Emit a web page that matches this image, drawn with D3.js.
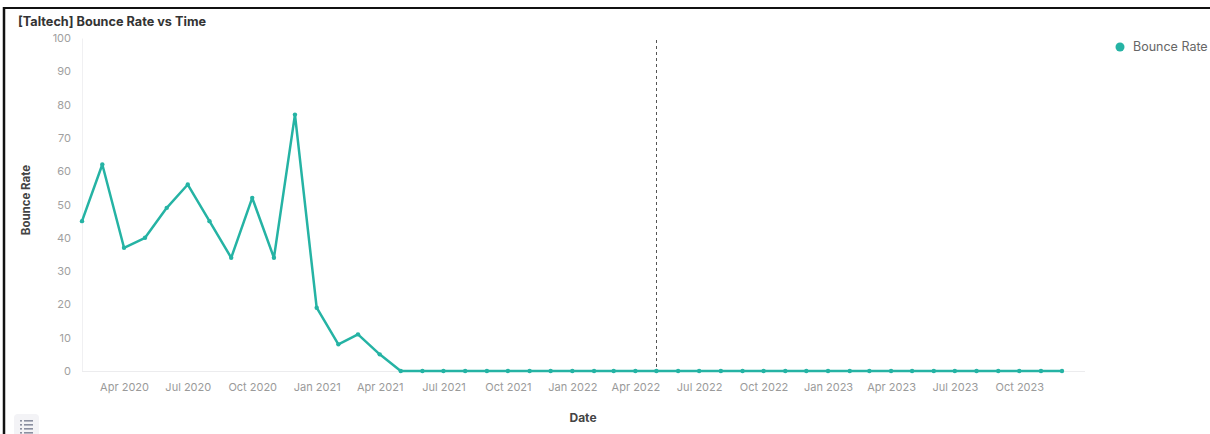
<!DOCTYPE html>
<html><head><meta charset="utf-8">
<script src="https://cdn.jsdelivr.net/npm/d3@7/dist/d3.min.js"></script>
<style>
html,body{margin:0;padding:0;background:#fff;}
svg{display:block;font-family:Inter,"Noto Sans",sans-serif;}
</style></head><body>
<svg id="chart" width="1210" height="434"></svg>
<script>
const title = "[Taltech] Bounce Rate vs Time";
const seriesName = "Bounce Rate";
const months = ["2020-02","2020-03","2020-04","2020-05","2020-06","2020-07","2020-08","2020-09","2020-10","2020-11","2020-12",
"2021-01","2021-02","2021-03","2021-04","2021-05","2021-06","2021-07","2021-08","2021-09","2021-10","2021-11","2021-12",
"2022-01","2022-02","2022-03","2022-04","2022-05","2022-06","2022-07","2022-08","2022-09","2022-10","2022-11","2022-12",
"2023-01","2023-02","2023-03","2023-04","2023-05","2023-06","2023-07","2023-08","2023-09","2023-10","2023-11","2023-12"];
const bounceRate = [45,62,37,40,49,56,45,34,52,34,77,19,8,11,5,0,0,0,0,0,0,0,0,0,0,0,0,0,0,0,0,0,0,0,0,0,0,0,0,0,0,0,0,0,0,0,0];
const yTicks = [0,10,20,30,40,50,60,70,80,90,100];
const xTickMonths = ["2020-04","2020-07","2020-10","2021-01","2021-04","2021-07","2021-10","2022-01","2022-04","2022-07","2022-10","2023-01","2023-04","2023-07","2023-10"];
const markerMonth = "2022-05";

const parse = d3.timeParse("%Y-%m");
const data = months.map((m,i)=>({date:parse(m), value:bounceRate[i]}));

const svg = d3.select("#chart");
const color = "#25b3a4";

// frame
svg.append("line").attr("x1",4).attr("x2",4).attr("y1",7).attr("y2",434).attr("stroke","#111").attr("stroke-width",2.5);
svg.append("line").attr("x1",4).attr("x2",1210).attr("y1",8).attr("y2",8).attr("stroke","#111").attr("stroke-width",2);

svg.append("text").attr("x",18).attr("y",26).text(title)
  .attr("font-size",12.7).attr("font-weight",700).attr("fill","#333");

const x = d3.scaleTime().domain([data[0].date, data[data.length-1].date]).range([82,1062]);
const y = d3.scaleLinear().domain([0,100]).range([371,38]);

svg.append("defs").append("clipPath").attr("id","clipTop")
  .append("rect").attr("x",0).attr("y",34).attr("width",1210).attr("height",400);

// y axis
const yAxis = svg.append("g").attr("clip-path","url(#clipTop)")
  .append("g").attr("transform","translate(82,0)")
  .call(d3.axisLeft(y).tickValues(yTicks).tickSize(0).tickPadding(11));
yAxis.select(".domain").attr("stroke","#f0f0f2");
yAxis.selectAll("text").attr("font-size",11).attr("fill","#a0a0a0").attr("font-family","Inter,sans-serif");

// x axis
const xAxis = svg.append("g").attr("transform","translate(0,371)")
  .call(d3.axisBottom(x).tickValues(xTickMonths.map(parse)).tickFormat(d3.timeFormat("%b %Y")).tickSize(0).tickPadding(12));
xAxis.select(".domain").remove();
xAxis.selectAll("text").attr("font-size",11).attr("fill","#9a9a9a").attr("font-family","Inter,sans-serif");
svg.append("line").attr("x1",82).attr("x2",1085).attr("y1",y(0)+0.5).attr("y2",y(0)+0.5).attr("stroke","#ececee");

// marker line
const mx = Math.round(x(parse(markerMonth)))+0.5;
svg.append("line").attr("x1",mx).attr("x2",mx)
  .attr("y1",40).attr("y2",371).attr("stroke","#555").attr("stroke-dasharray","3,3").attr("stroke-width",1);

// line
svg.append("path").datum(data)
  .attr("d",d3.line().x(d=>x(d.date)).y(d=>y(d.value)))
  .attr("fill","none").attr("stroke",color).attr("stroke-width",2.5).attr("stroke-linejoin","round");
svg.append("g").selectAll("circle").data(data).join("circle")
  .attr("cx",d=>x(d.date)).attr("cy",d=>y(d.value)).attr("r",2.2).attr("fill",color);

// axis titles
svg.append("text").attr("x",583).attr("y",422).attr("text-anchor","middle")
  .attr("font-size",12).attr("font-weight",700).attr("fill","#444").text("Date");
svg.append("text").attr("transform","translate(30,200) rotate(-90)").attr("text-anchor","middle")
  .attr("font-size",11.5).attr("font-weight",700).attr("fill","#444").text(seriesName);

// legend
svg.append("circle").attr("cx",1120).attr("cy",47).attr("r",4.5).attr("fill",color);
svg.append("text").attr("x",1133).attr("y",51).attr("font-size",12.5).attr("fill","#666").text(seriesName);

// list icon
svg.append("rect").attr("x",14).attr("y",414).attr("width",25).attr("height",24).attr("rx",4).attr("fill","#f3f3f6");
[420,424,428,432].forEach(yy=>{
  svg.append("rect").attr("x",20).attr("y",yy).attr("width",2).attr("height",1.6).attr("fill","#8a8fa0");
  svg.append("rect").attr("x",24).attr("y",yy).attr("width",9).attr("height",1.6).attr("fill","#8a8fa0");
});
</script>
</body></html>
